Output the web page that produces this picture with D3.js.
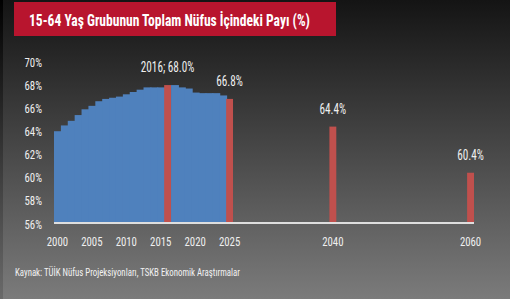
<!DOCTYPE html>
<html><head><meta charset="utf-8">
<script src="https://cdn.jsdelivr.net/npm/d3@7"></script>
<style>
html,body{margin:0;padding:0;background:#000;}
svg{display:block;}
text{font-family:"Liberation Sans Narrow","Roboto Condensed","Roboto","Liberation Sans",sans-serif;}
</style></head>
<body>
<script>
const title = "15-64 Yaş Grubunun Toplam Nüfus İçindeki Payı (%)";
const source = "Kaynak: TÜİK Nüfus Projeksiyonları, TSKB Ekonomik Araştırmalar";
const years = [2000,2001,2002,2003,2004,2005,2006,2007,2008,2009,2010,2011,2012,2013,2014,2015,2016,2017,2018,2019,2020,2021,2022,2023,2024,2025,2040,2060];
const values = [64.0,64.5,64.9,65.4,65.9,66.2,66.6,66.8,66.9,67.0,67.2,67.4,67.6,67.8,67.8,67.8,68.0,68.0,67.8,67.7,67.35,67.3,67.3,67.3,67.1,66.8,64.4,60.4];
const highlighted = [2016,2025,2040,2060];
const labels = {2016:"2016; 68.0%",2025:"66.8%",2040:"64.4%",2060:"60.4%"};
const xTicks = [2000,2005,2010,2015,2020,2025,2040,2060];
const yTicks = [56,58,60,62,64,66,68,70];

const W=510,H=299;
const svg=d3.select("body").append("svg").attr("width",W).attr("height",H);
const defs=svg.append("defs");
const g1=defs.append("linearGradient").attr("id","bg").attr("x1",0).attr("y1",0).attr("x2",0).attr("y2",1);
g1.append("stop").attr("offset","0%").attr("stop-color","#141414");
g1.append("stop").attr("offset","100%").attr("stop-color","#7b7b7b");
const g2=defs.append("linearGradient").attr("id","strip").attr("x1",0).attr("y1",0).attr("x2",0).attr("y2",1);
g2.append("stop").attr("offset","0%").attr("stop-color","#000");
g2.append("stop").attr("offset","100%").attr("stop-color","#6a6a6a");

svg.append("rect").attr("width",W).attr("height",H).attr("fill","url(#bg)");
svg.append("rect").attr("width",3).attr("height",H).attr("fill","url(#strip)");

function fit(sel,k){ sel.each(function(){ const w=this.getComputedTextLength(); d3.select(this).attr("textLength",w*k).attr("lengthAdjust","spacingAndGlyphs"); }); }

// title
svg.append("rect").attr("x",14).attr("y",2).attr("width",322).attr("height",34).attr("fill","#b8152e");
svg.append("text").attr("x",29).attr("y",26).attr("fill","#fff").attr("font-size",17).attr("font-weight","bold")
  .attr("textLength",281).attr("lengthAdjust","spacingAndGlyphs").text(title);

const allYears=d3.range(2000,2061);
const x=d3.scaleBand().domain(allYears).range([54,474]).padding(0);
const y=d3.scaleLinear().domain([56,70]).range([223.5,62]);

// y labels
svg.append("g").selectAll("text").data(yTicks).join("text")
  .attr("x",42).attr("y",d=>y(d)+5).attr("text-anchor","end")
  .attr("fill","#efefef").attr("font-size",13.5).text(d=>d+"%").call(fit,0.8);

// bars
const barData=years.map((d,i)=>({yr:d,v:values[i],hi:highlighted.includes(d)}));
svg.append("g").selectAll("rect").data(barData).join("rect")
  .attr("x",d=>x(d.yr)).attr("width",d=>x.bandwidth()+(d.hi?0:1))
  .attr("y",d=>y(d.v)).attr("height",d=>y(56)-y(d.v))
  .attr("fill",d=>d.hi?"#c0504d":"#4f81bd");

// baseline
svg.append("line").attr("x1",54).attr("x2",474).attr("y1",223).attr("y2",223)
  .attr("stroke","#dedede").attr("stroke-width",2);

// x labels
svg.append("g").selectAll("text").data(xTicks).join("text")
  .attr("x",d=>x(d)+x.bandwidth()/2).attr("y",245.5).attr("text-anchor","middle")
  .attr("fill","#efefef").attr("font-size",13.5).text(d=>d).call(fit,0.8);

// value labels
svg.append("g").selectAll("text").data(highlighted).join("text")
  .attr("x",d=>x(d)+x.bandwidth()/2).attr("y",d=>y(values[years.indexOf(d)])-13).attr("text-anchor","middle")
  .attr("fill","#efefef").attr("font-size",14).text(d=>labels[d]).call(fit,0.8);

// source
svg.append("text").attr("x",15).attr("y",276).attr("fill","#f2f2f2").attr("font-size",11)
  .attr("textLength",225).attr("lengthAdjust","spacingAndGlyphs").text(source);
</script>
</body></html>
